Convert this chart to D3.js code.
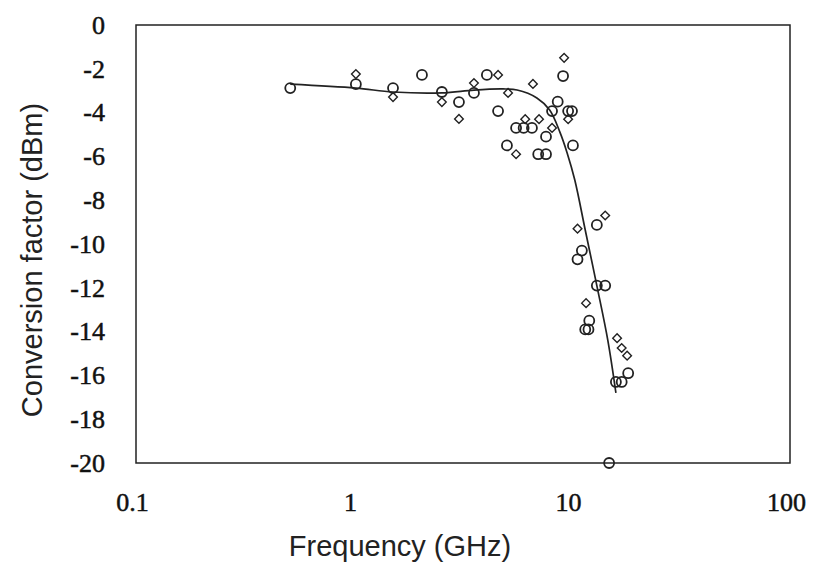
<!DOCTYPE html>
<html lang="en">
<head>
<meta charset="utf-8">
<style>
    body { margin: 0; background: #fff; }
    .tick text { font-family: "Liberation Serif", "Times New Roman", serif; font-size: 26px; fill: #111; stroke: #111; stroke-width: 0.5px; }
    .title { font-family: "Liberation Sans", Arial, sans-serif; font-size: 29px; fill: #222; }
</style>
</head>
<body>
<svg id="chart"></svg>
<script src="https://d3js.org/d3.v7.min.js"></script>
<script>

    // measured circles: [frequency GHz, conversion factor dBm]
    var circlePts = [
        [0.51, -2.88], [1.02, -2.7], [1.51, -2.88], [2.05, -2.28], [2.53, -3.06],
        [3.03, -3.52], [3.55, -3.1], [4.07, -2.28], [4.58, -3.93], [5.54, -4.7],
        [5.03, -5.5], [6.0, -4.7], [6.55, -4.7], [7.6, -5.1], [7.0, -5.9],
        [7.6, -5.9], [8.1, -3.93], [8.6, -3.5], [9.1, -2.33], [9.6, -3.93],
        [10.0, -3.93], [10.1, -5.5], [13.0, -9.13], [11.1, -10.3], [10.6, -10.7],
        [13.0, -11.9], [14.2, -11.9], [12.0, -13.5], [11.5, -13.9], [11.9, -13.9],
        [18.1, -15.9], [15.9, -16.3], [16.9, -16.3], [14.8, -20]
    ];

    // measured diamonds
    var diamondPts = [
        [1.02, -2.24], [1.51, -3.29], [2.53, -3.52], [3.03, -4.29], [3.55, -2.65],
        [4.58, -2.28], [5.09, -3.1], [5.54, -5.9], [6.62, -2.69], [9.2, -1.5],
        [9.6, -4.3], [6.1, -4.3], [7.06, -4.3], [8.1, -4.7], [10.6, -9.3],
        [14.2, -8.7], [11.6, -12.7], [16.1, -14.3], [16.9, -14.75], [17.9, -15.1]
    ];

    // fitted curve
    var fitPts = [
        [0.51, -2.7], [1.02, -2.88], [1.51, -3.06], [2.53, -3.1], [3.55, -2.97],
        [4.83, -2.92], [5.6, -2.97], [6.9, -3.33], [7.9, -3.88], [8.8, -4.89],
        [9.5, -5.84], [10.3, -7.08], [11.5, -9.36], [13.0, -11.9], [14.6, -14.4],
        [15.9, -16.8]
    ];

    var xTicks = [0.1, 1, 10, 100];
    var yTicks = [0, -2, -4, -6, -8, -10, -12, -14, -16, -18, -20];

    var width = 813, height = 573;
    var plotLeft = 136, plotRight = 790, plotTop = 25, plotBottom = 463;

    var svg = d3.select("#chart")
        .attr("width", width)
        .attr("height", height);

    var x = d3.scaleLog().domain([0.1, 100]).range([plotLeft, plotRight]);
    var y = d3.scaleLinear().domain([0, -20]).range([plotTop, plotBottom]);

    // frame
    svg.append("rect")
        .attr("x", plotLeft)
        .attr("y", plotTop)
        .attr("width", plotRight - plotLeft)
        .attr("height", plotBottom - plotTop)
        .attr("fill", "none")
        .attr("stroke", "#222")
        .attr("stroke-width", 1.5);

    // axes (labels only)
    var xAxis = svg.append("g")
        .attr("transform", "translate(0," + plotBottom + ")")
        .call(d3.axisBottom(x).tickValues(xTicks).tickSize(0).tickPadding(30)
            .tickFormat(function (d) { return String(d); }));
    xAxis.select(".domain").remove();
    xAxis.selectAll(".tick text").attr("dx", "-4");

    var yAxis = svg.append("g")
        .attr("transform", "translate(" + plotLeft + ",0)")
        .call(d3.axisLeft(y).tickValues(yTicks).tickSize(0).tickPadding(31)
            .tickFormat(function (d) { return String(d); }));
    yAxis.select(".domain").remove();

    // fit line
    var line = d3.line()
        .x(function (d) { return x(d[0]); })
        .y(function (d) { return y(d[1]); })
        .curve(d3.curveCatmullRom);

    svg.append("path")
        .attr("d", line(fitPts))
        .attr("fill", "none")
        .attr("stroke", "#222")
        .attr("stroke-width", 1.7);

    // circles
    svg.append("g").selectAll("circle")
        .data(circlePts)
        .enter()
        .append("circle")
        .attr("cx", function (d) { return x(d[0]); })
        .attr("cy", function (d) { return y(d[1]); })
        .attr("r", 5)
        .attr("fill", "none")
        .attr("stroke", "#222")
        .attr("stroke-width", 1.8);

    // diamonds
    var diamond = d3.symbol().type(d3.symbolDiamond2).size(48);
    svg.append("g").selectAll("path")
        .data(diamondPts)
        .enter()
        .append("path")
        .attr("d", diamond)
        .attr("transform", function (d) { return "translate(" + x(d[0]) + "," + y(d[1]) + ")"; })
        .attr("fill", "none")
        .attr("stroke", "#222")
        .attr("stroke-width", 1.4);

    // titles
    svg.append("text")
        .attr("class", "title")
        .attr("x", 400)
        .attr("y", 556)
        .attr("text-anchor", "middle")
        .text("Frequency (GHz)");

    svg.append("text")
        .attr("class", "title")
        .attr("transform", "translate(42,260) rotate(-90)")
        .attr("text-anchor", "middle")
        .text("Conversion factor (dBm)");

</script>
</body>
</html>
